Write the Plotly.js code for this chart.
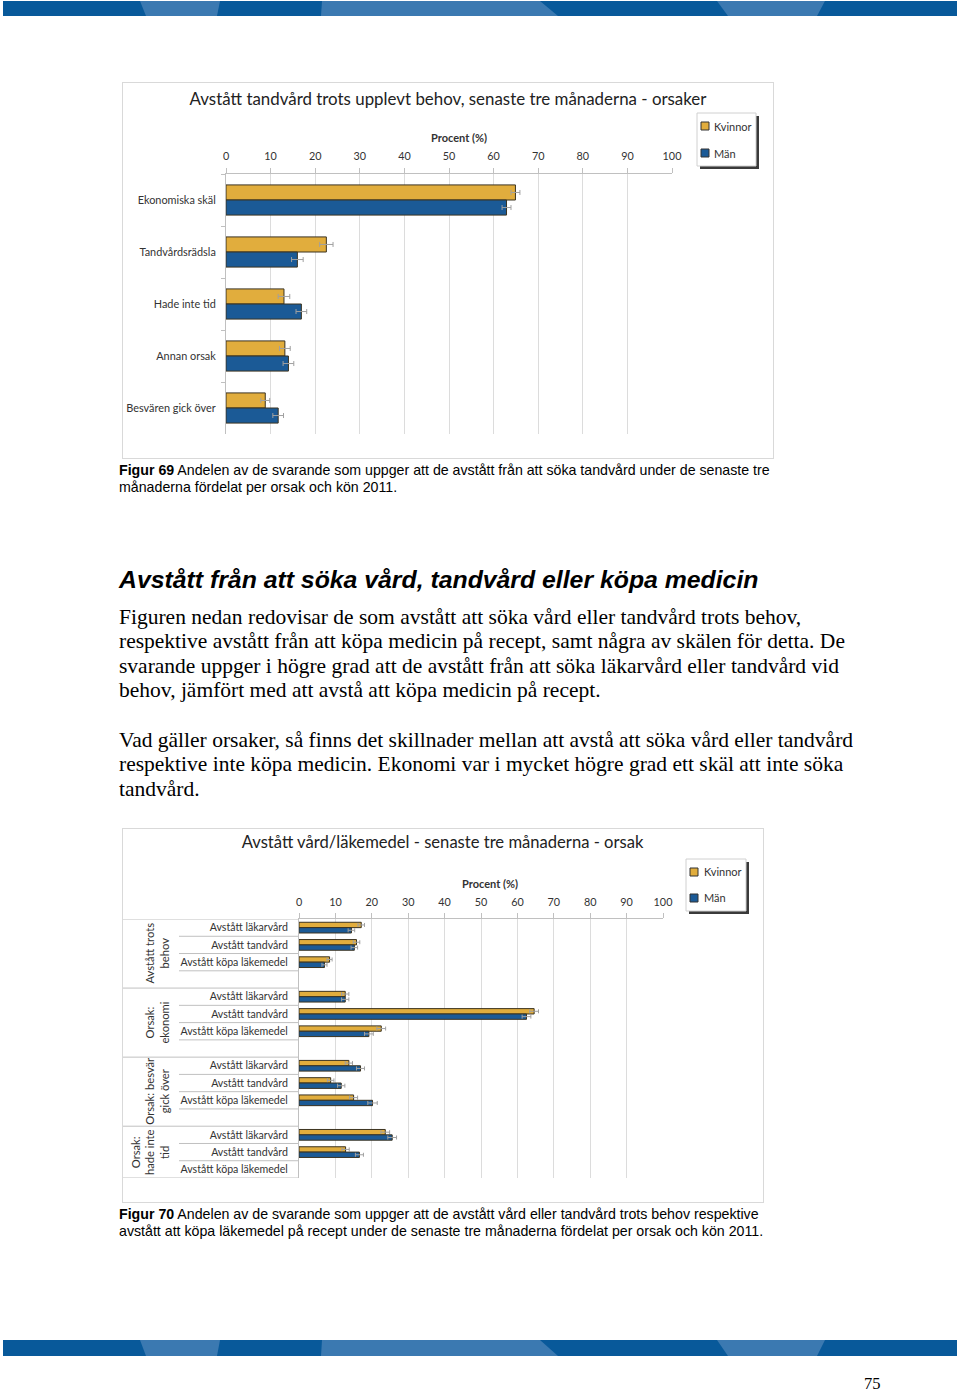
<!DOCTYPE html>
<html>
<head>
<meta charset="utf-8">
<script src="https://cdn.plot.ly/plotly-3.0.1.min.js"></script>
<style>
  html, body { margin:0; padding:0; background:#fff; }
  #page { position:relative; width:960px; height:1392px; overflow:hidden; background:#fff; }
  .abs { position:absolute; }
  .cap { font-family:"Liberation Sans", Arial, sans-serif; font-size:14.2px; line-height:17px; color:#000; white-space:nowrap; }
  .h2 { font-family:"Liberation Sans", Arial, sans-serif; font-size:24.8px; font-weight:bold; font-style:italic; line-height:28px; color:#000; white-space:nowrap; }
  .body { font-family:"Liberation Serif", "Times New Roman", serif; font-size:21.5px; line-height:24.5px; color:#000; white-space:nowrap; }
  .box { position:absolute; border:1px solid #d9d9d9; box-sizing:border-box; pointer-events:none; }
</style>
</head>
<body>
<div id="page">
  <svg class="abs" style="left:0;top:0" width="960" height="20">
    <rect x="3" y="1" width="954" height="15" fill="#08599a"/>
    <polygon points="140,1 220,1 217,16 146,16" fill="#3b79b1"/>
    <polygon points="322,1 540,1 558,16 321,16" fill="#3b79b1"/>
    <polygon points="717,1 825,1 817,16 728,16" fill="#3b79b1"/>
  </svg>

  <div id="chart1" class="abs" style="left:122px;top:82px;width:652px;height:376px;"></div>
  <div class="box" style="left:122px;top:82px;width:652px;height:377px;"></div>

  <div class="abs cap" style="left:119px;top:461.5px;"><b>Figur 69</b> Andelen av de svarande som uppger att de avstått från att söka tandvård under de senaste tre<br>månaderna fördelat per orsak och kön 2011.</div>

  <div class="abs h2" style="left:119px;top:566px;">Avstått från att söka vård, tandvård eller köpa medicin</div>

  <div class="abs body" style="left:119px;top:604.7px;">Figuren nedan redovisar de som avstått att söka vård eller tandvård trots behov,<br>respektive avstått från att köpa medicin på recept, samt några av skälen för detta. De<br>svarande uppger i högre grad att de avstått från att söka läkarvård eller tandvård vid<br>behov, jämfört med att avstå att köpa medicin på recept.</div>

  <div class="abs body" style="left:119px;top:727.7px;">Vad gäller orsaker, så finns det skillnader mellan att avstå att söka vård eller tandvård<br>respektive inte köpa medicin. Ekonomi var i mycket högre grad ett skäl att inte söka<br>tandvård.</div>

  <div id="chart2" class="abs" style="left:122px;top:828px;width:641px;height:374px;"></div>
  <div class="box" style="left:122px;top:828px;width:642px;height:375px;"></div>

  <div class="abs cap" style="left:119px;top:1205.5px;"><b>Figur 70</b> Andelen av de svarande som uppger att de avstått vård eller tandvård trots behov respektive<br>avstått att köpa läkemedel på recept under de senaste tre månaderna fördelat per orsak och kön 2011.</div>

  <svg class="abs" style="left:0;top:1339px" width="960" height="20">
    <rect x="3" y="1" width="954" height="16" fill="#08599a"/>
    <polygon points="140,1 220,1 217,17 146,17" fill="#3b79b1"/>
    <polygon points="322,1 540,1 558,17 321,17" fill="#3b79b1"/>
    <polygon points="717,1 825,1 817,17 728,17" fill="#3b79b1"/>
  </svg>
  <div class="abs" style="left:864px;top:1375px;font-family:'Liberation Serif',serif;font-size:16.5px;line-height:18px;color:#000;">75</div>
</div>

<script>
// ---------- DATA ----------
const seriesNames = ['Kvinnor', 'Män'];
const xTicks = [0, 10, 20, 30, 40, 50, 60, 70, 80, 90, 100];

// Figure 69
const reasons1 = ['Ekonomiska skäl', 'Tandvårdsrädsla', 'Hade inte tid', 'Annan orsak', 'Besvären gick över'];
const kvinnor1 = [64.9, 22.5, 13.0, 13.2, 8.8];
const man1 = [62.9, 16.0, 16.9, 14.0, 11.7];
const kvinnor1Err = [1.0, 1.5, 1.3, 1.2, 1.0];
const man1Err = [1.0, 1.3, 1.2, 1.2, 1.2];

// Figure 70
const groups2 = ['Avstått trots<br>behov', 'Orsak:<br>ekonomi', 'Orsak: besvär<br>gick över', 'Orsak:<br>hade inte<br>tid'];
const sub2 = ['Avstått läkarvård', 'Avstått tandvård', 'Avstått köpa läkemedel'];
const kvinnor2 = [[17.1, 15.8, 8.4], [12.7, 64.6, 22.6], [13.7, 8.7, 15.0], [23.7, 12.8, null]];
const man2 = [[14.4, 15.2, 7.0], [12.7, 62.5, 19.2], [16.9, 11.6, 20.2], [25.6, 16.6, null]];
const kvinnor2Err = [[0.9, 0.9, 0.7], [1.0, 1.2, 1.2], [1.0, 0.9, 1.1], [1.2, 1.0, null]];
const man2Err = [[0.9, 0.9, 0.7], [1.0, 1.2, 1.2], [1.1, 1.0, 1.3], [1.2, 1.1, null]];

// ---------- STYLE ----------
const colK = '#e1ad3d', colM = '#1b5a96', edge = '#3b3320';
const FONT = 'Lato, "Open Sans", sans-serif';
const gridC = '#dcdcdc', lineC = '#c0c0c0';

function mapper(W, H, m) {
  const pw = W - m.l - m.r, ph = H - m.t - m.b;
  return { x: px => (px - m.l) / pw, y: py => 1 - (py - m.t) / ph };
}

function legendParts(P, box, sw, tx, rowsY) {
  const shapes = [
    {type:'rect', xref:'paper', yref:'paper', x0:P.x(box[0]+3), x1:P.x(box[2]+3), y0:P.y(box[1]+3), y1:P.y(box[3]+3), fillcolor:'#3a3a3a', line:{width:0}},
    {type:'rect', xref:'paper', yref:'paper', x0:P.x(box[0]), x1:P.x(box[2]), y0:P.y(box[1]), y1:P.y(box[3]), fillcolor:'#fff', line:{color:'#d0d0d0', width:1}}
  ];
  const ann = [];
  [colK, colM].forEach((c, i) => {
    const cy = rowsY[i];
    shapes.push({type:'rect', xref:'paper', yref:'paper', x0:P.x(sw), x1:P.x(sw+8), y0:P.y(cy-4), y1:P.y(cy+4), fillcolor:c, line:{color:'#333', width:1}});
    ann.push({xref:'paper', yref:'paper', x:P.x(tx), y:P.y(cy), xanchor:'left', yanchor:'middle', showarrow:false, text:seriesNames[i], font:{family:FONT, size:11, color:'#333'}});
  });
  return {shapes, ann};
}

// ---------- CHART 1 ----------
(function () {
  const W = 652, H = 376, m = {l:104, r:102, t:92, b:24};
  const P = mapper(W, H, m);
  const lg = legendParts(P, [575, 31, 634, 84], 579, 590, [44, 71]);
  const mk = (name, x, err, col) => ({
    type:'bar', orientation:'h', name, y:reasons1, x,
    marker:{color:col, line:{color:edge, width:1}},
    error_x:{type:'data', array:err, visible:true, color:'#a0a0a0', thickness:1, width:2.5},
    hoverinfo:'x+name'
  });
  const data = [mk(seriesNames[0], kvinnor1, kvinnor1Err, colK), mk(seriesNames[1], man1, man1Err, colM)];
  const layout = {
    width:W, height:H, margin:m, paper_bgcolor:'#fff', plot_bgcolor:'#fff',
    showlegend:false, barmode:'group', bargap:0.42, bargroupgap:0,
    font:{family:FONT, color:'#333'},
    title:{text:'Avstått tandvård trots upplevt behov, senaste tre månaderna - orsaker',
      font:{family:FONT, size:16.9, color:'#222'}, x:0.5, xref:'container', xanchor:'center',
      y:1 - 17.5/H, yref:'container', yanchor:'middle'},
    xaxis:{range:[0,100], side:'top', tickvals:xTicks, showgrid:true, gridcolor:gridC, gridwidth:1,
      showline:true, linecolor:lineC, ticks:'outside', ticklen:5, tickcolor:lineC, zeroline:false,
      ticklabelstandoff:4,
      tickfont:{family:FONT, size:10.8, color:'#333'}, fixedrange:true},
    yaxis:{type:'category', autorange:'reversed', showline:true, linecolor:lineC, ticks:'outside',
      tickson:'boundaries', ticklen:4, tickcolor:lineC, showgrid:false, ticklabelstandoff:7,
      tickfont:{family:FONT, size:10.9, color:'#333'}, fixedrange:true},
    shapes: lg.shapes,
    annotations: [{xref:'paper', yref:'paper', x:P.x(459-122), y:P.y(137-82), showarrow:false,
      text:'<b>Procent (%)</b>', font:{family:FONT, size:11, color:'#333'}, xanchor:'center', yanchor:'middle'}].concat(lg.ann)
  };
  Plotly.newPlot('chart1', data, layout, {displayModeBar:false, staticPlot:true});
})();

// ---------- CHART 2 ----------
(function () {
  const W = 641, H = 374, m = {l:177, r:100, t:91, b:24};
  const P = mapper(W, H, m);
  const lg = legendParts(P, [564, 31, 624, 83], 568, 580, [44, 70]);

  // row layout: every group gets its sub-rows plus one empty spacer row (not after the last)
  const yK = [], xK = [], eK = [], xM = [], eM = [], tickvals = [], ticktext = [];
  const groupSpans = [];
  let row = 0;
  groups2.forEach((g, gi) => {
    const start = row;
    sub2.forEach((s, si) => {
      tickvals.push(row); ticktext.push(s);
      yK.push(row); xK.push(kvinnor2[gi][si]); eK.push(kvinnor2Err[gi][si]);
      xM.push(man2[gi][si]); eM.push(man2Err[gi][si]);
      row++;
    });
    if (gi < groups2.length - 1) row++;
    groupSpans.push([start - 0.5, row - 0.5]);
  });
  const nRows = row;

  const mk = (name, x, err, col) => ({
    type:'bar', orientation:'h', name, y:yK, x,
    marker:{color:col, line:{color:edge, width:1}},
    error_x:{type:'data', array:err, visible:true, color:'#a0a0a0', thickness:1, width:2},
    hoverinfo:'x+name'
  });
  const data = [mk(seriesNames[0], xK, eK, colK), mk(seriesNames[1], xM, eM, colM)];

  const xFull = P.x(122 - 122), xShort = P.x(179 - 122);
  const shapes = [];
  groupSpans.forEach((sp, gi) => {
    shapes.push({type:'line', xref:'paper', yref:'y', x0:xFull, x1:0, y0:sp[0], y1:sp[0], line:{color:lineC, width:1}});
    for (let r = sp[0] + 1; r < sp[1] - 0.01; r++) {
      shapes.push({type:'line', xref:'paper', yref:'y', x0:xShort, x1:0, y0:r, y1:r, line:{color:lineC, width:1}});
    }
  });
  shapes.push({type:'line', xref:'paper', yref:'y', x0:xFull, x1:0, y0:nRows - 0.5, y1:nRows - 0.5, line:{color:lineC, width:1}});

  const groupAnn = groups2.map((g, gi) => ({
    xref:'paper', yref:'y', x:P.x(173 - 122), y:(groupSpans[gi][0] + groupSpans[gi][1]) / 2,
    xanchor:'right', yanchor:'middle', textangle:-90, showarrow:false, text:g, align:'center',
    font:{family:FONT, size:11.2, color:'#333'}
  }));

  const layout = {
    width:W, height:H, margin:m, paper_bgcolor:'#fff', plot_bgcolor:'#fff',
    showlegend:false, barmode:'group', bargap:0.38, bargroupgap:0,
    font:{family:FONT, color:'#333'},
    title:{text:'Avstått vård/läkemedel - senaste tre månaderna - orsak',
      font:{family:FONT, size:16.6, color:'#222'}, x:0.5, xref:'container', xanchor:'center',
      y:1 - 14.5/H, yref:'container', yanchor:'middle'},
    xaxis:{range:[0,100], side:'top', tickvals:xTicks, showgrid:true, gridcolor:gridC, gridwidth:1,
      showline:true, linecolor:lineC, ticks:'outside', ticklen:5, tickcolor:lineC, zeroline:false,
      ticklabelstandoff:3,
      tickfont:{family:FONT, size:10.8, color:'#333'}, fixedrange:true},
    yaxis:{range:[nRows - 0.5, -0.5], tickvals, ticktext, showline:true, linecolor:lineC, ticks:'',
      showgrid:false, zeroline:false, ticklabelstandoff:8,
      tickfont:{family:FONT, size:10.6, color:'#333'}, fixedrange:true},
    shapes: lg.shapes.concat(shapes),
    annotations: [{xref:'paper', yref:'paper', x:P.x(490 - 122), y:P.y(883 - 828), showarrow:false,
      text:'<b>Procent (%)</b>', font:{family:FONT, size:11, color:'#333'}, xanchor:'center', yanchor:'middle'}]
      .concat(lg.ann, groupAnn)
  };
  Plotly.newPlot('chart2', data, layout, {displayModeBar:false, staticPlot:true});
})();
</script>
</body>
</html>
